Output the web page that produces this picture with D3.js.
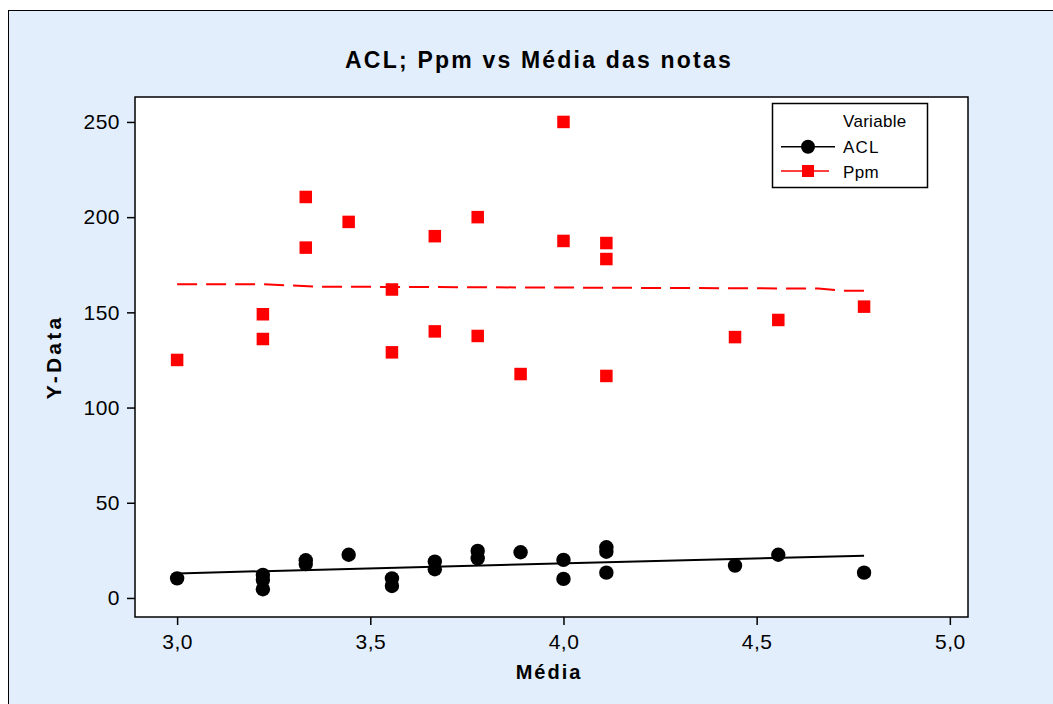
<!DOCTYPE html>
<html><head><meta charset="utf-8">
<script src="https://cdn.jsdelivr.net/npm/d3@7"></script>
<style>body{margin:0;background:#fff}svg{display:block}text{font-family:"Liberation Sans",Arial,sans-serif}</style>
</head><body>
<svg id="c" width="1053" height="704"></svg>
<script>
// Data
const xValues = [3.0, 3.222, 3.222, 3.222, 3.333, 3.333, 3.444, 3.556, 3.556, 3.667, 3.667, 3.778, 3.778, 3.889, 4.0, 4.0, 4.111, 4.111, 4.111, 4.444, 4.556, 4.778];
const aclValues = [10.3, 12.1, 9.5, 4.6, 19.8, 17.8, 22.7, 10.3, 6.3, 19.1, 15.1, 24.7, 20.8, 24.0, 20.0, 10.0, 26.6, 24.3, 13.3, 17.0, 22.7, 13.3];
const ppmX = [3.0, 3.222, 3.222, 3.333, 3.333, 3.444, 3.556, 3.556, 3.667, 3.667, 3.778, 3.778, 3.889, 4.0, 4.0, 4.111, 4.111, 4.111, 4.444, 4.556, 4.778];
const ppmValues = [125, 149, 136, 210.6, 184, 197.5, 162, 129, 190, 140, 200, 137.6, 117.6, 250, 187.5, 186.4, 178, 116.6, 137, 146, 153];
const aclFitX = [3.0, 4.778];
const aclFitY = [12.9, 22.2];
const ppmFitX = [3.0, 3.222, 3.36, 4.66, 4.72, 4.778];
const ppmFitY = [164.8, 164.8, 163.5, 162.5, 161.4, 161.4];
const xTicks = [3.0, 3.5, 4.0, 4.5, 5.0];
const yTicks = [0, 50, 100, 150, 200, 250];
const seriesNames = ["ACL", "Ppm"];

const svg = d3.select("#c");
// outer frame
svg.append("rect").attr("x", 8.5).attr("y", 10.5).attr("width", 1100).attr("height", 800)
  .attr("fill", "#e3eefc").attr("stroke", "#000").attr("stroke-width", 1);

const L = 135, R = 968, T = 97, B = 617;
const x = d3.scaleLinear().domain([2.891, 5.047]).range([L, R]);
const y = d3.scaleLinear().domain([-10, 263.1]).range([B, T]);

svg.append("rect").attr("x", L).attr("y", T).attr("width", R - L).attr("height", B - T)
  .attr("fill", "#fff").attr("stroke", "#000").attr("stroke-width", 1.5);

const fmt = d => d3.format(".1f")(d).replace(".", ",");
const xa = svg.append("g").attr("transform", `translate(0,${B})`)
  .call(d3.axisBottom(x).tickValues(xTicks).tickFormat(fmt).tickSize(8).tickPadding(9));
const ya = svg.append("g").attr("transform", `translate(${L},0)`)
  .call(d3.axisLeft(y).tickValues(yTicks).tickSize(8).tickPadding(7));
[xa, ya].forEach(a => {
  a.select(".domain").remove();
  a.selectAll("line").attr("stroke", "#000").attr("stroke-width", 1.5);
  a.selectAll("text").attr("font-size", 21).attr("fill", "#000").attr("letter-spacing", 0.5)
    .attr("font-family", "Liberation Sans, Arial, sans-serif");
});

// fit lines
const line = d3.line().x(d => x(d[0])).y(d => y(d[1]));
svg.append("path").datum(aclFitX.map((v, i) => [v, aclFitY[i]])).attr("d", line)
  .attr("fill", "none").attr("stroke", "#000").attr("stroke-width", 2);
svg.append("path").datum(ppmFitX.map((v, i) => [v, ppmFitY[i]])).attr("d", line)
  .attr("fill", "none").attr("stroke", "#ff0000").attr("stroke-width", 2).attr("stroke-dasharray", "20,9");

// points
svg.append("g").selectAll("circle").data(xValues.map((v, i) => [v, aclValues[i]])).join("circle")
  .attr("cx", d => x(d[0])).attr("cy", d => y(d[1])).attr("r", 7.2).attr("fill", "#000");
const s = 12.5;
svg.append("g").selectAll("rect").data(ppmX.map((v, i) => [v, ppmValues[i]])).join("rect")
  .attr("x", d => x(d[0]) - s / 2).attr("y", d => y(d[1]) - s / 2).attr("width", s).attr("height", s).attr("fill", "#ff0000");

// titles
svg.append("text").attr("x", 539).attr("y", 68).attr("text-anchor", "middle").attr("font-size", 23)
  .attr("letter-spacing", 2.2).attr("font-weight", "bold").text("ACL; Ppm vs Média das notas");
svg.append("text").attr("x", 549).attr("y", 679).attr("text-anchor", "middle").attr("font-size", 20)
  .attr("letter-spacing", 2).attr("font-weight", "bold").text("Média");
svg.append("text").attr("transform", "translate(61,357) rotate(-90)").attr("text-anchor", "middle")
  .attr("font-size", 21).attr("letter-spacing", 3.2).attr("font-weight", "bold").text("Y-Data");

// legend
const lg = svg.append("g");
lg.append("rect").attr("x", 772.5).attr("y", 103.5).attr("width", 155).attr("height", 84)
  .attr("fill", "#fff").attr("stroke", "#000").attr("stroke-width", 1.5);
lg.append("text").attr("x", 843).attr("y", 127).attr("font-size", 17).attr("letter-spacing", 0.3).text("Variable");
const rows = [146.7, 171];
lg.append("line").attr("x1", 781).attr("x2", 835).attr("y1", rows[0]).attr("y2", rows[0]).attr("stroke", "#000").attr("stroke-width", 1.5);
lg.append("circle").attr("cx", 808).attr("cy", rows[0]).attr("r", 7).attr("fill", "#000");
lg.append("line").attr("x1", 781).attr("x2", 829).attr("y1", rows[1]).attr("y2", rows[1]).attr("stroke", "#ff0000").attr("stroke-width", 1.5);
lg.append("rect").attr("x", 808 - 6).attr("y", rows[1] - 6).attr("width", 12).attr("height", 12).attr("fill", "#ff0000");
lg.selectAll("text.s").data(seriesNames).join("text").attr("class", "s")
  .attr("x", 843).attr("y", (d, i) => i === 0 ? 152.7 : 178).attr("font-size", 17)
  .attr("letter-spacing", (d, i) => i === 0 ? 1.2 : 0.3).text(d => d);
</script>
</body></html>
